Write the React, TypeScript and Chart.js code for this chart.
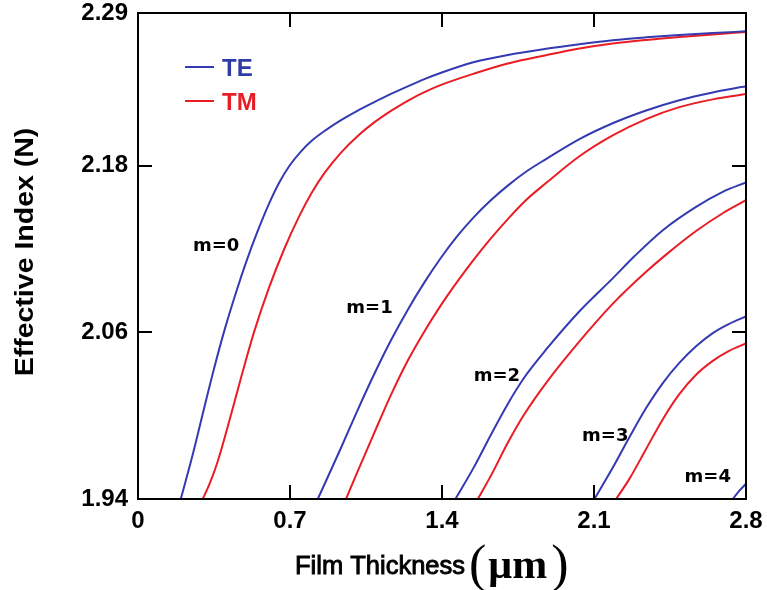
import React, { useEffect, useRef } from "react";
import { Chart, registerables } from "chart.js";

Chart.register(...registerables);

// Axis ticks
const xTickValues = [0, 0.7, 1.4, 2.1, 2.8];
const xTickLabels = ["0", "0.7", "1.4", "2.1", "2.8"];
const yTickValues = [1.94, 2.06, 2.18, 2.29];
const yTickLabels = ["1.94", "2.06", "2.18", "2.29"];

// Film thickness (µm) and effective index for each guided mode
const te0Thickness = [0.197, 0.25, 0.3, 0.35, 0.4, 0.45, 0.5, 0.55, 0.6, 0.65, 0.7, 0.75, 0.8, 0.87, 0.935, 1.012, 1.088, 1.165, 1.242, 1.319, 1.396, 1.549, 1.703, 1.879, 2.033, 2.186, 2.34, 2.493, 2.647, 2.8];
const te0Index = [1.94, 1.9707, 2.0025, 2.0338, 2.0625, 2.088, 2.1115, 2.1325, 2.1515, 2.1678, 2.1805, 2.1902, 2.198, 2.2062, 2.2128, 2.2197, 2.2258, 2.2317, 2.2372, 2.2424, 2.247, 2.2547, 2.2598, 2.2642, 2.2675, 2.2704, 2.2725, 2.2742, 2.2756, 2.2768];

const tm0Thickness = [0.298, 0.33, 0.367, 0.428, 0.482, 0.534, 0.603, 0.672, 0.742, 0.8, 0.86, 0.935, 1.012, 1.088, 1.165, 1.242, 1.319, 1.396, 1.549, 1.703, 1.879, 2.033, 2.186, 2.34, 2.493, 2.647, 2.8];
const tm0Index = [1.94, 1.951, 1.967, 2.0005, 2.0316, 2.06, 2.092, 2.1195, 2.1435, 2.1605, 2.175, 2.1895, 2.2015, 2.2112, 2.2195, 2.2268, 2.233, 2.2382, 2.2464, 2.2536, 2.2596, 2.2644, 2.268, 2.2706, 2.2727, 2.2746, 2.2763];

const te1Thickness = [0.828, 0.935, 1.012, 1.088, 1.165, 1.242, 1.319, 1.396, 1.473, 1.549, 1.626, 1.703, 1.79, 1.879, 2.033, 2.186, 2.34, 2.493, 2.647, 2.8];
const te1Index = [1.94, 1.9769, 2.0042, 2.03, 2.0543, 2.0762, 2.096, 2.1139, 2.1298, 2.1434, 2.1553, 2.1657, 2.176, 2.1848, 2.1992, 2.2106, 2.2198, 2.2272, 2.2328, 2.2372];

const tm1Thickness = [0.958, 1.012, 1.088, 1.165, 1.242, 1.319, 1.396, 1.473, 1.549, 1.626, 1.703, 1.79, 1.879, 2.033, 2.186, 2.34, 2.493, 2.647, 2.8];
const tm1Index = [1.94, 1.96, 1.9876, 2.015, 2.0396, 2.0607, 2.0798, 2.0971, 2.1129, 2.1278, 2.1416, 2.1557, 2.1675, 2.1868, 2.2018, 2.2136, 2.2222, 2.2278, 2.2316];

const te2Thickness = [1.462, 1.549, 1.626, 1.703, 1.779, 1.879, 2.033, 2.186, 2.286, 2.417, 2.57, 2.693, 2.8];
const te2Index = [1.94, 1.9635, 1.9865, 2.0085, 2.0275, 2.0475, 2.0752, 2.0989, 2.1148, 2.1336, 2.1504, 2.1612, 2.168];

const tm2Thickness = [1.565, 1.626, 1.703, 1.779, 1.879, 2.033, 2.186, 2.34, 2.432, 2.57, 2.693, 2.8];
const tm2Index = [1.94, 1.957, 1.9805, 2.001, 2.0235, 2.0535, 2.0805, 2.1036, 2.116, 2.133, 2.1458, 2.1552];

const te3Thickness = [2.102, 2.186, 2.263, 2.34, 2.417, 2.493, 2.57, 2.647, 2.72, 2.8];
const te3Index = [1.94, 1.9625, 1.9845, 2.0055, 2.0235, 2.038, 2.05, 2.0595, 2.066, 2.0715];

const tm3Thickness = [2.202, 2.263, 2.34, 2.417, 2.493, 2.57, 2.647, 2.72, 2.8];
const tm3Index = [1.94, 1.9545, 1.976, 1.9975, 2.0155, 2.0295, 2.0395, 2.0465, 2.052];

const te4Thickness = [2.739, 2.77, 2.8];
const te4Index = [1.94, 1.946, 1.951];

// Mode order annotations (anchored in data coordinates)
const modeNames = ["m=0", "m=1", "m=2", "m=3", "m=4"];
const modeLabelThickness = [0.36, 1.066, 1.653, 2.152, 2.624];
const modeLabelIndex = [2.122, 2.077, 2.028, 1.985, 1.9555];

const TE_COLOR = "rgb(52, 58, 178)";
const TM_COLOR = "rgb(234, 28, 36)";
const TE_TEXT = "rgb(48, 60, 165)";
const TM_TEXT = "rgb(232, 30, 38)";

const toPoints = (xs: number[], ys: number[]) => xs.map((x, i) => ({ x, y: ys[i] }));

const curve = (label: string, xs: number[], ys: number[], color: string) => ({
  label,
  data: toPoints(xs, ys),
  borderColor: color,
  backgroundColor: color,
  borderWidth: 2,
  pointRadius: 0,
  fill: false,
  cubicInterpolationMode: "monotone" as const,
});

// keep the plot frame fixed: tick labels may overhang the outer margin
const fixScaleBox = (s: any, size: { width?: number; height?: number }) => {
  if (size.width !== undefined) s.width = size.width;
  if (size.height !== undefined) s.height = size.height;
  s.paddingTop = 0;
  s.paddingBottom = 0;
  s.paddingLeft = 0;
  s.paddingRight = 0;
};

const decorations = {
  id: "waveguideDecorations",
  afterDraw(chart: any) {
    const { ctx, chartArea } = chart;
    const { left, right, top, bottom } = chartArea;
    const xs = chart.scales.x;
    const ys = chart.scales.y;
    const tickLen = 14;

    ctx.save();
    ctx.strokeStyle = "#000";
    ctx.lineWidth = 2;
    ctx.strokeRect(left, top, right - left, bottom - top);

    // inward tick marks on all four sides
    ctx.beginPath();
    xTickValues.slice(1, -1).forEach((v) => {
      const px = Math.round(xs.getPixelForValue(v));
      ctx.moveTo(px, bottom);
      ctx.lineTo(px, bottom - tickLen);
      ctx.moveTo(px, top);
      ctx.lineTo(px, top + tickLen);
    });
    yTickValues.slice(1, -1).forEach((v) => {
      const py = Math.round(ys.getPixelForValue(v));
      ctx.moveTo(left, py);
      ctx.lineTo(left + tickLen, py);
      ctx.moveTo(right, py);
      ctx.lineTo(right - tickLen, py);
    });
    ctx.stroke();

    // mode labels
    ctx.fillStyle = "#000";
    ctx.font = "bold 18px 'DejaVu Sans'";
    ctx.textAlign = "center";
    ctx.textBaseline = "middle";
    modeNames.forEach((name, i) => {
      ctx.fillText(
        name,
        xs.getPixelForValue(modeLabelThickness[i]),
        ys.getPixelForValue(modeLabelIndex[i])
      );
    });

    // legend
    const legendX = left + 47;
    const rows = [
      { text: "TE", line: TE_COLOR, color: TE_TEXT, y: top + 54 },
      { text: "TM", line: TM_COLOR, color: TM_TEXT, y: top + 88 },
    ];
    ctx.textAlign = "left";
    ctx.textBaseline = "alphabetic";
    ctx.font = "bold 24px 'Liberation Sans'";
    rows.forEach((r) => {
      ctx.strokeStyle = r.line;
      ctx.lineWidth = 2;
      ctx.beginPath();
      ctx.moveTo(legendX, r.y);
      ctx.lineTo(legendX + 29, r.y);
      ctx.stroke();
      ctx.fillStyle = r.color;
      ctx.fillText(r.text, legendX + 37, r.y + 8.5);
    });

    // y-axis title
    ctx.fillStyle = "#000";
    ctx.save();
    ctx.translate(33, 252);
    ctx.rotate(-Math.PI / 2);
    ctx.scale(1.14, 1);
    ctx.font = "bold 25px 'Liberation Sans'";
    ctx.textAlign = "center";
    ctx.fillText("Effective Index (N)", 0, 0);
    ctx.restore();

    // x-axis title: Film Thickness (µm)
    let tx = 295;
    ctx.textAlign = "left";
    ctx.font = "25.5px 'Liberation Sans'";
    ctx.lineWidth = 0.9;
    ctx.strokeStyle = "#000";
    ctx.fillText("Film Thickness", tx, 573.5);
    ctx.strokeText("Film Thickness", tx, 573.5);
    tx += ctx.measureText("Film Thickness").width + 4;
    ctx.font = "52px 'Liberation Serif'";
    ctx.fillText("(", tx, 581);
    tx += ctx.measureText("(").width + 2;
    ctx.font = "bold 42px 'Liberation Serif'";
    ctx.fillText("\u03bcm", tx, 578);
    tx += ctx.measureText("\u03bcm").width + 4;
    ctx.font = "52px 'Liberation Serif'";
    ctx.fillText(")", tx, 581);

    ctx.restore();
  },
};

export default function App() {
  const canvasRef = useRef<HTMLCanvasElement | null>(null);

  useEffect(() => {
    const canvas = canvasRef.current;
    if (!canvas) return;
    const tickFont = { family: "'Liberation Sans'", weight: "bold" as const, size: 24, lineHeight: 1 };

    const chart = new Chart(canvas, {
      type: "line",
      data: {
        datasets: [
          curve("TE m=0", te0Thickness, te0Index, TE_COLOR),
          curve("TM m=0", tm0Thickness, tm0Index, TM_COLOR),
          curve("TE m=1", te1Thickness, te1Index, TE_COLOR),
          curve("TM m=1", tm1Thickness, tm1Index, TM_COLOR),
          curve("TE m=2", te2Thickness, te2Index, TE_COLOR),
          curve("TM m=2", tm2Thickness, tm2Index, TM_COLOR),
          curve("TE m=3", te3Thickness, te3Index, TE_COLOR),
          curve("TM m=3", tm3Thickness, tm3Index, TM_COLOR),
          curve("TE m=4", te4Thickness, te4Index, TE_COLOR),
        ],
      },
      options: {
        responsive: false,
        animation: false,
        events: [],
        layout: { autoPadding: false, padding: { left: 8, right: 21, top: 13, bottom: 0 } },
        plugins: {
          legend: { display: false },
          tooltip: { enabled: false },
          title: { display: false },
        },
        scales: {
          x: {
            type: "linear",
            min: 0,
            max: 2.8,
            afterBuildTicks: (s: any) => {
              s.ticks = xTickValues.map((value) => ({ value }));
            },
            afterFit: (s: any) => fixScaleBox(s, { height: 91 }),
            ticks: {
              autoSkip: false,
              maxRotation: 0,
              padding: 10,
              color: "#000",
              font: tickFont,
              callback: (_v: any, i: number) => xTickLabels[i],
            },
            grid: { display: false, drawTicks: false },
            border: { display: false },
          },
          y: {
            type: "linear",
            min: 1.94,
            max: 2.29,
            afterBuildTicks: (s: any) => {
              s.ticks = yTickValues.map((value) => ({ value }));
            },
            afterFit: (s: any) => fixScaleBox(s, { width: 130 }),
            ticks: {
              autoSkip: false,
              padding: 10,
              color: "#000",
              font: tickFont,
              callback: (_v: any, i: number) => yTickLabels[i],
            },
            grid: { display: false, drawTicks: false },
            border: { display: false },
          },
        },
      },
      plugins: [decorations],
    });

    return () => chart.destroy();
  }, []);

  return (
    <div style={{ position: "absolute", left: 0, top: 0, width: 767, height: 590, background: "#fff" }}>
      <canvas ref={canvasRef} width={767} height={590} style={{ display: "block" }} />
    </div>
  );
}
